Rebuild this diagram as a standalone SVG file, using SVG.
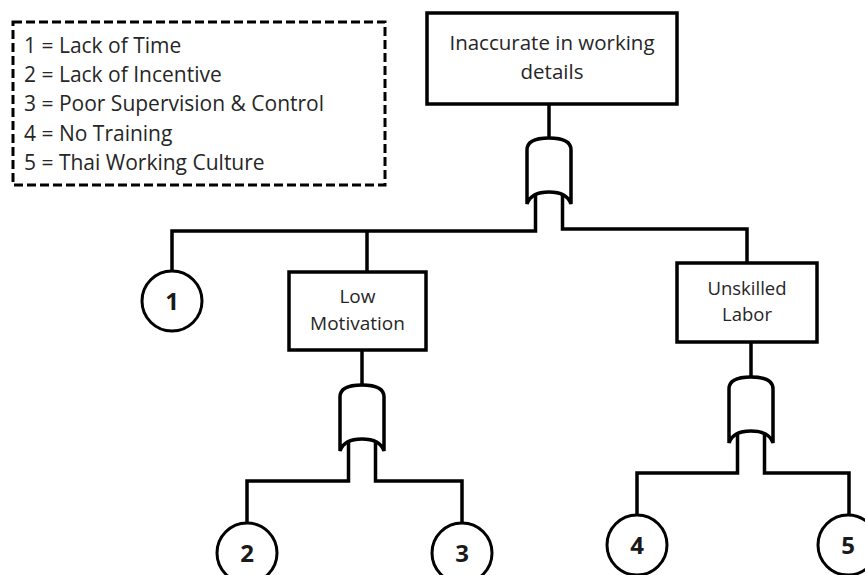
<svg xmlns="http://www.w3.org/2000/svg" width="865" height="575" viewBox="0 0 865 575">
  <style>
    .box { fill: #fff; stroke: #000; stroke-width: 3.5; }
    .evt { fill: #fff; stroke: #000; stroke-width: 3; }
    .wire { fill: none; stroke: #000; stroke-width: 3.5; stroke-linejoin: miter; }
    .gate { fill: #fff; stroke: #000; stroke-width: 3.5; }
    .lbl { font-family: "Open Sans", Lato, sans-serif; fill: #262626; text-anchor: middle; }
    .num { font-family: "Open Sans", Lato, sans-serif; font-weight: bold; font-size: 24px; fill: #1a1a1a; text-anchor: middle; }
    .key { font-family: "Open Sans", Lato, sans-serif; font-size: 21px; fill: #262626; }
  </style>
  <defs>
    <!-- OR gate, origin at top centre -->
    <g id="orgate">
      <path class="gate" d="M-22,66 L-22,12 C-22,3 -12,0 0,0 C12,0 22,3 22,12 L22,66 C19,57 10,54 0,54 C-10,54 -19,57 -22,66 Z"/>
    </g>
  </defs>

  <!-- legend -->
  <g id="legend">
    <rect x="13" y="22" width="372" height="163" fill="#fff" stroke="#000" stroke-width="3" stroke-dasharray="9,4"/>
    <text class="key" x="24" y="53">1 = Lack of Time</text>
    <text class="key" x="24" y="82">2 = Lack of Incentive</text>
    <text class="key" x="24" y="111">3 = Poor Supervision &amp; Control</text>
    <text class="key" x="24" y="141">4 = No Training</text>
    <text class="key" x="24" y="170">5 = Thai Working Culture</text>
  </g>

  <!-- connectors -->
  <g id="connectors">
    <path class="wire" d="M549,104 V140"/>
    <path class="wire" d="M535.5,195 V231 H172 V271"/>
    <path class="wire" d="M367,231 V272"/>
    <path class="wire" d="M562.5,195 V229 H747 V263"/>
    <path class="wire" d="M362,350 V387"/>
    <path class="wire" d="M348.5,442 V481 H247 V523"/>
    <path class="wire" d="M375.5,442 V481 H462 V523"/>
    <path class="wire" d="M751,342 V379"/>
    <path class="wire" d="M737.5,434 V473 H637 V515"/>
    <path class="wire" d="M764.5,434 V473 H849 V515"/>
  </g>

  <!-- gates -->
  <g id="gate-top"><use href="#orgate" x="549" y="138"/></g>
  <g id="gate-motivation"><use href="#orgate" x="362" y="385"/></g>
  <g id="gate-labor"><use href="#orgate" x="751" y="377"/></g>

  <!-- top event -->
  <g id="top-event">
    <rect class="box" x="427" y="13" width="250" height="91"/>
    <text class="lbl" x="552" y="50" font-size="20.5">Inaccurate in working</text>
    <text class="lbl" x="552" y="78.5" font-size="20.5">details</text>
  </g>

  <!-- intermediate events -->
  <g id="low-motivation">
    <rect class="box" x="289" y="272" width="137" height="78"/>
    <text class="lbl" x="357.5" y="303" font-size="19">Low</text>
    <text class="lbl" x="357.5" y="329.5" font-size="19">Motivation</text>
  </g>
  <g id="unskilled-labor">
    <rect class="box" x="677" y="263" width="140" height="79"/>
    <text class="lbl" x="747" y="294.5" font-size="18.5">Unskilled</text>
    <text class="lbl" x="747" y="320.5" font-size="18.5">Labor</text>
  </g>

  <!-- basic events -->
  <g id="event-1">
    <circle class="evt" cx="172" cy="301" r="30"/>
    <text class="num" x="172" y="310">1</text>
  </g>
  <g id="event-2">
    <circle class="evt" cx="247" cy="553" r="30"/>
    <text class="num" x="247" y="562">2</text>
  </g>
  <g id="event-3">
    <circle class="evt" cx="462" cy="553" r="30"/>
    <text class="num" x="462" y="562">3</text>
  </g>
  <g id="event-4">
    <circle class="evt" cx="637" cy="545" r="30"/>
    <text class="num" x="637" y="554">4</text>
  </g>
  <g id="event-5">
    <circle class="evt" cx="848" cy="545" r="30"/>
    <text class="num" x="848" y="554">5</text>
  </g>
</svg>
